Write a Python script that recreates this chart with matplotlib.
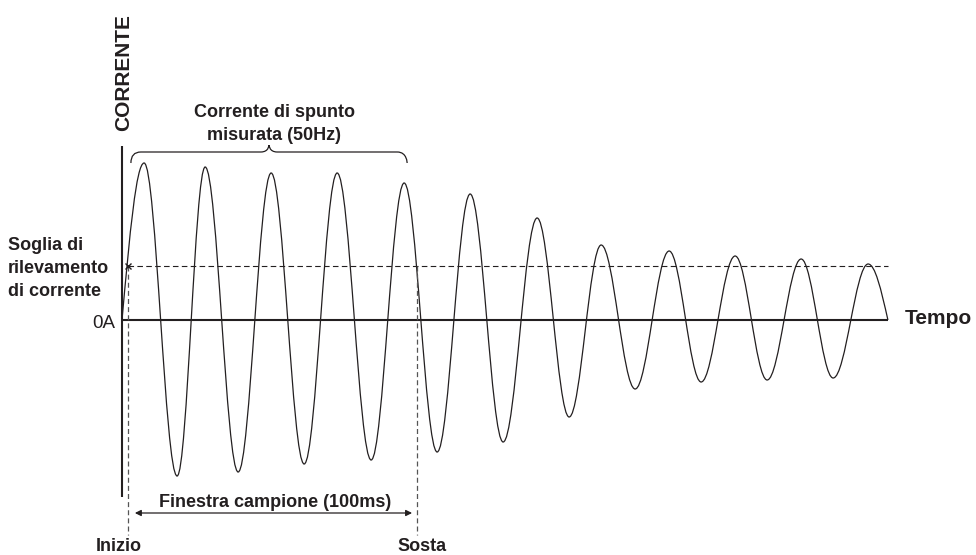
import numpy as np
import matplotlib
matplotlib.use("Agg")
import matplotlib.pyplot as plt
from matplotlib.path import Path
from matplotlib.patches import PathPatch

plt.rcParams['font.family'] = ['Liberation Sans', 'DejaVu Sans']

# time in ms (one 50 Hz cycle = 20 ms), current in arbitrary units
start_t = 0.0
end_t = 232.1
peak_t = [6.7, 25.2, 45.2, 65.2, 85.5, 105.5, 125.8, 145.2, 165.8, 185.8, 205.8, 226.1]
peak_v = [157, 153, 147, 147, 137, 126, 102, 75, 69, 64, 61, 56]
trough_t = [16.7, 35.2, 55.2, 75.5, 95.5, 115.5, 135.5, 155.5, 175.5, 195.5, 215.5]
trough_v = [-156, -152, -144, -140, -132, -122, -97, -69, -62, -60, -58]

threshold = 54
t_start = 1.8      # Inizio
t_stop = 89.4      # Sosta

soglia_lines = ["Soglia di", "rilevamento", "di corrente"]
spunto_lines = ["Corrente di spunto", "misurata (50Hz)"]

INK = '#231f20'


def wave_path():
    # keypoints: zero start, alternating extrema, zero end
    keys = [(start_t, 0.0)]
    for i in range(len(peak_t)):
        keys.append((peak_t[i], peak_v[i]))
        if i < len(trough_t):
            keys.append((trough_t[i], trough_v[i]))
    keys.append((end_t, 0.0))

    a = 1 - 2 / np.pi   # half-cycle bezier handle
    q = 0.3516          # quarter-cycle bezier handle
    verts = [keys[0]]
    codes = [Path.MOVETO]
    for k in range(len(keys) - 1):
        t0, v0 = keys[k]
        t1, v1 = keys[k + 1]
        dt, dv = t1 - t0, v1 - v0
        if k == 0:
            c1 = (t0 + q * dt, v0 + q * np.pi / 2 * dv)
            c2 = (t1 - q * dt, v1)
        elif k == len(keys) - 2:
            c1 = (t0 + q * dt, v0)
            c2 = (t1 - q * dt, v1 - q * np.pi / 2 * dv)
        else:
            c1 = (t0 + a * dt, v0)
            c2 = (t1 - a * dt, v1)
        verts += [c1, c2, (t1, v1)]
        codes += [Path.CURVE4] * 3
    return Path(verts, codes)


def brace(ax, x0, x1, y_end, y_line, y_tip):
    xm = (x0 + x1) / 2
    r = 3.0
    verts = [(x0, y_end), (x0, y_line), (x0 + r, y_line),
             (xm - 2.5, y_line),
             (xm, y_line), (xm, y_tip), (xm, y_tip),
             (xm, y_tip), (xm, y_line), (xm + 2.5, y_line),
             (x1 - r, y_line),
             (x1, y_line), (x1, y_end), (x1, y_end)]
    codes = [Path.MOVETO, Path.CURVE3, Path.CURVE3,
             Path.LINETO,
             Path.CURVE4, Path.CURVE4, Path.CURVE4,
             Path.CURVE4, Path.CURVE4, Path.CURVE4,
             Path.LINETO,
             Path.CURVE4, Path.CURVE4, Path.CURVE4]
    ax.add_patch(PathPatch(Path(verts, codes), fill=False, ec=INK, lw=0.9))


fig = plt.figure(figsize=(9.76, 5.55), dpi=100)
ax = fig.add_axes([0, 0, 1, 1])
ax.set_xlim(-122 / 3.3, (976 - 122) / 3.3)
ax.set_ylim(-235, 320)
ax.axis('off')

# axes of the sketch
ax.plot([0.15, 0.15], [-177, 174], color=INK, lw=1.5, solid_capstyle='butt')
ax.plot([start_t, end_t], [0, 0], color=INK, lw=1.5, solid_capstyle='butt')

# threshold and sample window markers
ax.plot([t_start, end_t], [threshold, threshold], color=INK, lw=0.8, ls=(0, (5, 3)))
ax.plot([t_start, t_start], [threshold, -215], color='#555555', lw=0.9, ls=(0, (4, 2.5)))
ax.plot([t_stop, t_stop], [threshold, -215], color='#555555', lw=0.9, ls=(0, (4, 2.5)))
ax.plot([t_start], [threshold], marker='x', color=INK, ms=5, mew=1.0)

# the waveform
ax.add_patch(PathPatch(wave_path(), fill=False, ec=INK, lw=0.9))

# sample window arrow
ax.annotate('', xy=(87.9, -193), xytext=(3.9, -193),
            arrowprops=dict(arrowstyle='<|-|>', lw=0.9, color=INK,
                            mutation_scale=9, shrinkA=0, shrinkB=0))
ax.text(46.4, -187, "Finestra campione (100ms)", ha='center', va='baseline',
        fontsize=13, fontweight='bold', color=INK)

ax.text(-1.1, -231, "Inizio", ha='center', va='baseline', fontsize=13,
        fontweight='bold', color=INK)
ax.text(90.9, -231, "Sosta", ha='center', va='baseline', fontsize=13,
        fontweight='bold', color=INK)

# brace and its label
brace(ax, 2.7, 86.4, 157, 168, 175)
for i, line in enumerate(spunto_lines):
    ax.text(46.1, 203 - 23 * i, line, ha='center', va='baseline', fontsize=13,
            fontweight='bold', color=INK)

for i, line in enumerate(soglia_lines):
    ax.text(-34.5, 70 - 23 * i, line, ha='left', va='baseline', fontsize=13,
            fontweight='bold', color=INK)

ax.text(-2.1, -8, "0A", ha='right', va='baseline', fontsize=13.5, color=INK)
ax.text(237.3, -4, "Tempo", ha='left', va='baseline', fontsize=15,
        fontweight='bold', color=INK)
ax.text(0.6, 247.5, "CORRENTE", rotation=90, ha='center', va='center',
        fontsize=15, fontweight='bold', color=INK)

fig.savefig('out.png', dpi=100)
